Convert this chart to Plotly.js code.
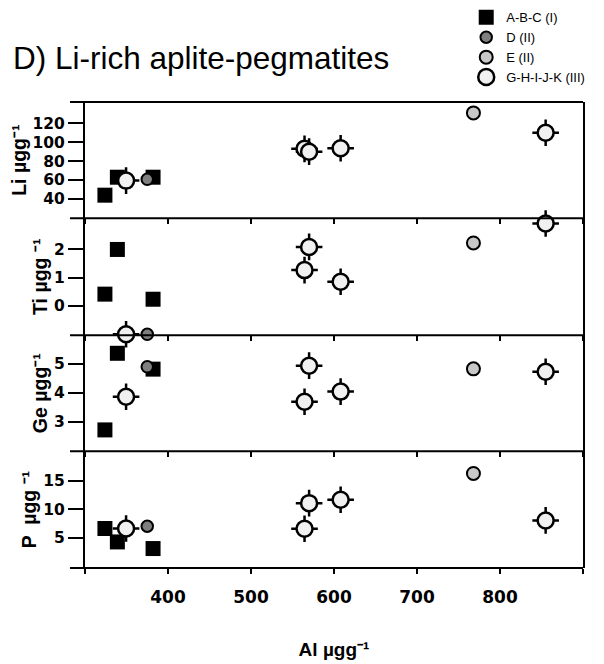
<!DOCTYPE html>
<html>
<head>
<meta charset="utf-8">
<script src="https://cdn.plot.ly/plotly-3.0.1.min.js"></script>
<style>html,body{margin:0;padding:0;background:#fff;}#chart{width:604px;height:664px;}</style>
</head>
<body>
<div id="chart"></div>
<script>
// ---- data ----
const seriesNames = ['A-B-C (I)', 'D (II)', 'E (II)', 'G-H-I-J-K (III)'];

const al_ABC = [324, 339, 382];
const li_ABC = [44, 63, 63];
const ti_ABC = [0.42, 2.0, 0.24];
const ge_ABC = [2.71, 5.37, 4.82];
const p_ABC  = [6.65, 4.3, 3.14];

const al_D = [375];
const li_D = [60.8];
const ti_D = [-1.0];
const ge_D = [4.9];
const p_D  = [7.05];

const al_E = [768];
const li_E = [131];
const ti_E = [2.23];
const ge_E = [4.83];
const p_E  = [16.3];

const al_G = [349.5, 564.5, 570, 608, 855];
const li_G = [59.4, 93, 90, 93.6, 110];
const ti_G = [-1.0, 1.27, 2.09, 0.86, 2.92];
const ge_G = [3.86, 3.69, 4.94, 4.04, 4.73];
const p_G  = [6.65, 6.6, 11.1, 11.7, 8.07];

const xTickVals = [400, 500, 600, 700, 800];
const xTickText = ['400', '500', '600', '700', '800'];
const xEndTicks = [300, 900];
const liTicks = [40, 60, 80, 100, 120];
const tiTicks = [0, 1, 2];
const geTicks = [3, 4, 5];
const pTicks  = [5, 10, 15];

const yTitles = ['Li µgg⁻¹', 'Ti µgg ⁻¹', 'Ge µgg⁻¹', 'P  µgg ⁻¹'];
const xTitle = 'Al µgg⁻¹';
const chartTitle = 'D) Li-rich aplite-pegmatites';

// ---- styling ----
const FONT = 'Liberation Sans, Arial, Helvetica, sans-serif';
const TICKFONT = 'DejaVu Sans, Liberation Sans, Arial, sans-serif';

// panels top -> bottom: Li, Ti, Ge, P (P carries the labelled x axis 'x')
const panels = [
  {xa: 'x4', ya: 'y',  ABC: li_ABC, D: li_D, E: li_E, G: li_G},
  {xa: 'x2', ya: 'y2', ABC: ti_ABC, D: ti_D, E: ti_E, G: ti_G},
  {xa: 'x3', ya: 'y3', ABC: ge_ABC, D: ge_D, E: ge_E, G: ge_G},
  {xa: 'x',  ya: 'y4', ABC: p_ABC,  D: p_D,  E: p_E,  G: p_G}
];

const traces = [];
panels.forEach((pn, i) => {
  const first = i === 0;
  traces.push({
    type: 'scatter', mode: 'markers', name: seriesNames[0], legendgroup: 'abc', showlegend: first,
    x: al_ABC, y: pn.ABC, xaxis: pn.xa, yaxis: pn.ya, cliponaxis: false,
    marker: {symbol: 'square', size: 15, color: '#000000', line: {width: 0}}
  });
  traces.push({
    type: 'scatter', mode: 'markers', name: seriesNames[1], legendgroup: 'd', showlegend: first,
    x: al_D, y: pn.D, xaxis: pn.xa, yaxis: pn.ya, cliponaxis: false,
    marker: {symbol: 'circle', size: 11.5, color: '#7f7f7f', line: {width: 2, color: '#000000'}}
  });
  traces.push({
    type: 'scatter', mode: 'markers', name: seriesNames[2], legendgroup: 'e', showlegend: first,
    x: al_E, y: pn.E, xaxis: pn.xa, yaxis: pn.ya, cliponaxis: false,
    marker: {symbol: 'circle', size: 13, color: '#c8c8c8', line: {width: 2, color: '#000000'}}
  });
  // crosshair ticks of the G-H-I-J-K symbol
  traces.push({
    type: 'scatter', mode: 'markers', name: seriesNames[3], legendgroup: 'g', showlegend: false,
    x: al_G, y: pn.G, xaxis: pn.xa, yaxis: pn.ya, cliponaxis: false, hoverinfo: 'skip',
    marker: {symbol: 'cross-thin', size: 19, color: '#000000', line: {width: 2.5, color: '#000000'}}
  });
  traces.push({
    type: 'scatter', mode: 'markers', name: seriesNames[3], legendgroup: 'g', showlegend: first,
    x: al_G, y: pn.G, xaxis: pn.xa, yaxis: pn.ya, cliponaxis: false,
    marker: {symbol: 'circle', size: 16, color: '#f0f0f0', line: {width: 2.5, color: '#000000'}}
  });
});

const domains = [[0.7503, 1], [0.4997, 0.7503], [0.2506, 0.4997], [0, 0.2506]];
const ranges = [[19.5, 142.5], [-1.03, 3.1], [1.97, 6.0], [-0.27, 20.2]];
const yticks = [liTicks, tiTicks, geTicks, pTicks];

function xAxis(anchor, showLabels) {
  return {
    domain: [0, 1], anchor: anchor, range: [300, 900],
    tickmode: 'array', tickvals: xTickVals, ticktext: xTickText,
    showticklabels: showLabels, ticks: 'outside', ticklen: 5, tickwidth: 1.5, tickcolor: '#000',
    minor: {tickmode: 'array', tickvals: xEndTicks, ticks: 'outside', ticklen: 5, tickwidth: 1.5, tickcolor: '#000', showgrid: false},
    showline: false, showgrid: false, zeroline: false,
    ticklabelstandoff: 9,
    tickfont: {family: TICKFONT, size: 17, color: '#000', weight: 700}
  };
}
function yAxis(i, xa) {
  return {
    domain: domains[i], anchor: xa, range: ranges[i],
    tickmode: 'array', tickvals: yticks[i],
    ticks: 'outside', ticklen: 15, tickwidth: 2, tickcolor: '#000',
    showline: true, linewidth: 2, linecolor: '#000', mirror: true,
    showgrid: false, zeroline: false,
    tickfont: {family: TICKFONT, size: 15.5, color: '#000', weight: 700},
    title: {text: yTitles[i], standoff: 1, font: {family: FONT, size: 19.5, color: '#000', weight: 700}}
  };
}

const hLines = [0, 0.2506, 0.4997, 0.7503, 1].map(v => ({
  type: 'line', xref: 'paper', yref: 'paper', x0: -0.0301, x1: 1, y0: v, y1: v,
  line: {color: '#000', width: 2}
}));

const layout = {
  width: 604, height: 664,
  margin: {l: 85, r: 21.3, t: 102, b: 96.3, autoexpand: false},
  paper_bgcolor: '#ffffff', plot_bgcolor: '#ffffff',
  font: {family: FONT, color: '#000'},
  title: {
    text: chartTitle, xref: 'container', yref: 'container',
    x: 0.0215, xanchor: 'left', y: 0.912, yanchor: 'middle',
    font: {family: FONT, size: 31.5, color: '#000'}
  },
  showlegend: true,
  legend: {
    x: 0.7655, xanchor: 'left', y: 1.2137, yanchor: 'top',
    bgcolor: 'rgba(0,0,0,0)', borderwidth: 0,
    font: {family: FONT, size: 13, color: '#000'},
    tracegroupgap: 0
  },
  xaxis: Object.assign(xAxis('y4', true), {
    title: {text: xTitle, standoff: 36, font: {family: FONT, size: 19, color: '#000', weight: 700}}
  }),
  xaxis2: Object.assign(xAxis('y2', false), {matches: 'x'}),
  xaxis3: Object.assign(xAxis('y3', false), {matches: 'x'}),
  xaxis4: Object.assign(xAxis('y', false), {matches: 'x'}),
  yaxis: yAxis(0, 'x4'),
  yaxis2: yAxis(1, 'x2'),
  yaxis3: yAxis(2, 'x3'),
  yaxis4: yAxis(3, 'x'),
  shapes: hLines
};

Plotly.newPlot('chart', traces, layout, {displayModeBar: false, responsive: false});
</script>
</body>
</html>
